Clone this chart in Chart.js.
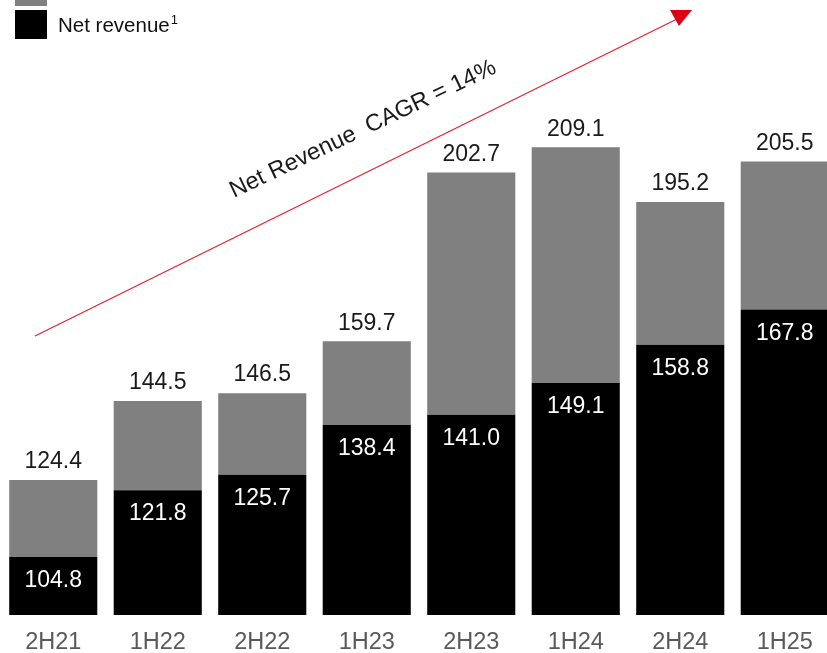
<!DOCTYPE html>
<html>
<head>
<meta charset="utf-8">
<script src="https://cdn.jsdelivr.net/npm/chart.js@4/dist/chart.umd.min.js"></script>
<style>
    html, body { margin: 0; padding: 0; background: #fff; overflow: hidden; }
    #wrap { width: 840px; height: 653px; }
</style>
</head>
<body>
<div id="wrap"><canvas id="revChart" width="840" height="653"></canvas></div>
<script>
// Chart data
const periods = ['2H21', '1H22', '2H22', '1H23', '2H23', '1H24', '2H24', '1H25'];
const totalRevenue = [124.4, 144.5, 146.5, 159.7, 202.7, 209.1, 195.2, 205.5];
const netRevenue = [104.8, 121.8, 125.7, 138.4, 141.0, 149.1, 158.8, 167.8];
const otherRevenue = totalRevenue.map((t, i) => +(t - netRevenue[i]).toFixed(1));

const FONT = '"Liberation Sans", Arial, sans-serif';

// value labels above bars and inside the black part
const valueLabels = {
    id: 'valueLabels',
    afterDatasetsDraw(chart) {
        const ctx = chart.ctx;
        const netMeta = chart.getDatasetMeta(0);
        const topMeta = chart.getDatasetMeta(1);
        ctx.save();
        ctx.font = '23px ' + FONT;
        ctx.textAlign = 'center';
        ctx.textBaseline = 'middle';
        periods.forEach((p, i) => {
            const top = topMeta.data[i];
            const net = netMeta.data[i];
            ctx.fillStyle = '#1a1a1a';
            ctx.fillText(totalRevenue[i].toFixed(1), top.x, top.y - 18);
            ctx.fillStyle = '#ffffff';
            ctx.fillText(netRevenue[i].toFixed(1), net.x, net.y + 24);
        });
        ctx.restore();
    }
};

// legend + CAGR arrow annotation
const annotations = {
    id: 'annotations',
    afterDraw(chart) {
        const ctx = chart.ctx;
        ctx.save();

        // legend
        ctx.fillStyle = '#808080';
        ctx.fillRect(15, -20, 32, 26);
        ctx.fillStyle = '#000000';
        ctx.fillRect(15, 10, 32, 29);
        ctx.fillStyle = '#111';
        ctx.font = '20.5px ' + FONT;
        ctx.textBaseline = 'alphabetic';
        ctx.textAlign = 'left';
        ctx.fillText('Net revenue', 58, 32);
        const w = ctx.measureText('Net revenue').width;
        ctx.font = '13px ' + FONT;
        ctx.fillText('1', 58 + w + 1, 24);

        // arrow line
        ctx.strokeStyle = '#e8232e';
        ctx.lineWidth = 1.3;
        ctx.beginPath();
        ctx.moveTo(35, 336);
        ctx.lineTo(677, 19);
        ctx.stroke();
        ctx.fillStyle = '#dc0014';
        ctx.beginPath();
        ctx.moveTo(670, 10);
        ctx.lineTo(692, 10);
        ctx.lineTo(679, 26);
        ctx.closePath();
        ctx.fill();

        // CAGR text
        ctx.translate(234, 198);
        ctx.rotate(-25.5 * Math.PI / 180);
        ctx.fillStyle = '#1a1a1a';
        ctx.font = '23.5px ' + FONT;
        ctx.fillText('Net Revenue  CAGR = 14%', 0, 0);
        ctx.restore();
    }
};

new Chart(document.getElementById('revChart'), {
    type: 'bar',
    data: {
        labels: periods,
        datasets: [{
            label: 'Net revenue',
            data: netRevenue,
            backgroundColor: '#000000',
            barPercentage: 0.843,
            categoryPercentage: 1
        }, {
            label: 'Other',
            data: otherRevenue,
            backgroundColor: '#808080',
            barPercentage: 0.843,
            categoryPercentage: 1
        }]
    },
    options: {
        responsive: false,
        animation: false,
        layout: {
            padding: { left: 1, right: 3, top: 26, bottom: 1 }
        },
        plugins: {
            legend: { display: false },
            tooltip: { enabled: false }
        },
        scales: {
            x: {
                stacked: true,
                grid: { display: false, drawTicks: false },
                border: { display: false },
                afterFit: function(scale) { scale.height = 37; },
                ticks: {
                    color: '#595959',
                    padding: 13,
                    font: { family: FONT, size: 23.5 }
                }
            },
            y: {
                stacked: true,
                display: false,
                min: 90,
                max: 240
            }
        }
    },
    plugins: [valueLabels, annotations]
});
</script>
</body>
</html>
